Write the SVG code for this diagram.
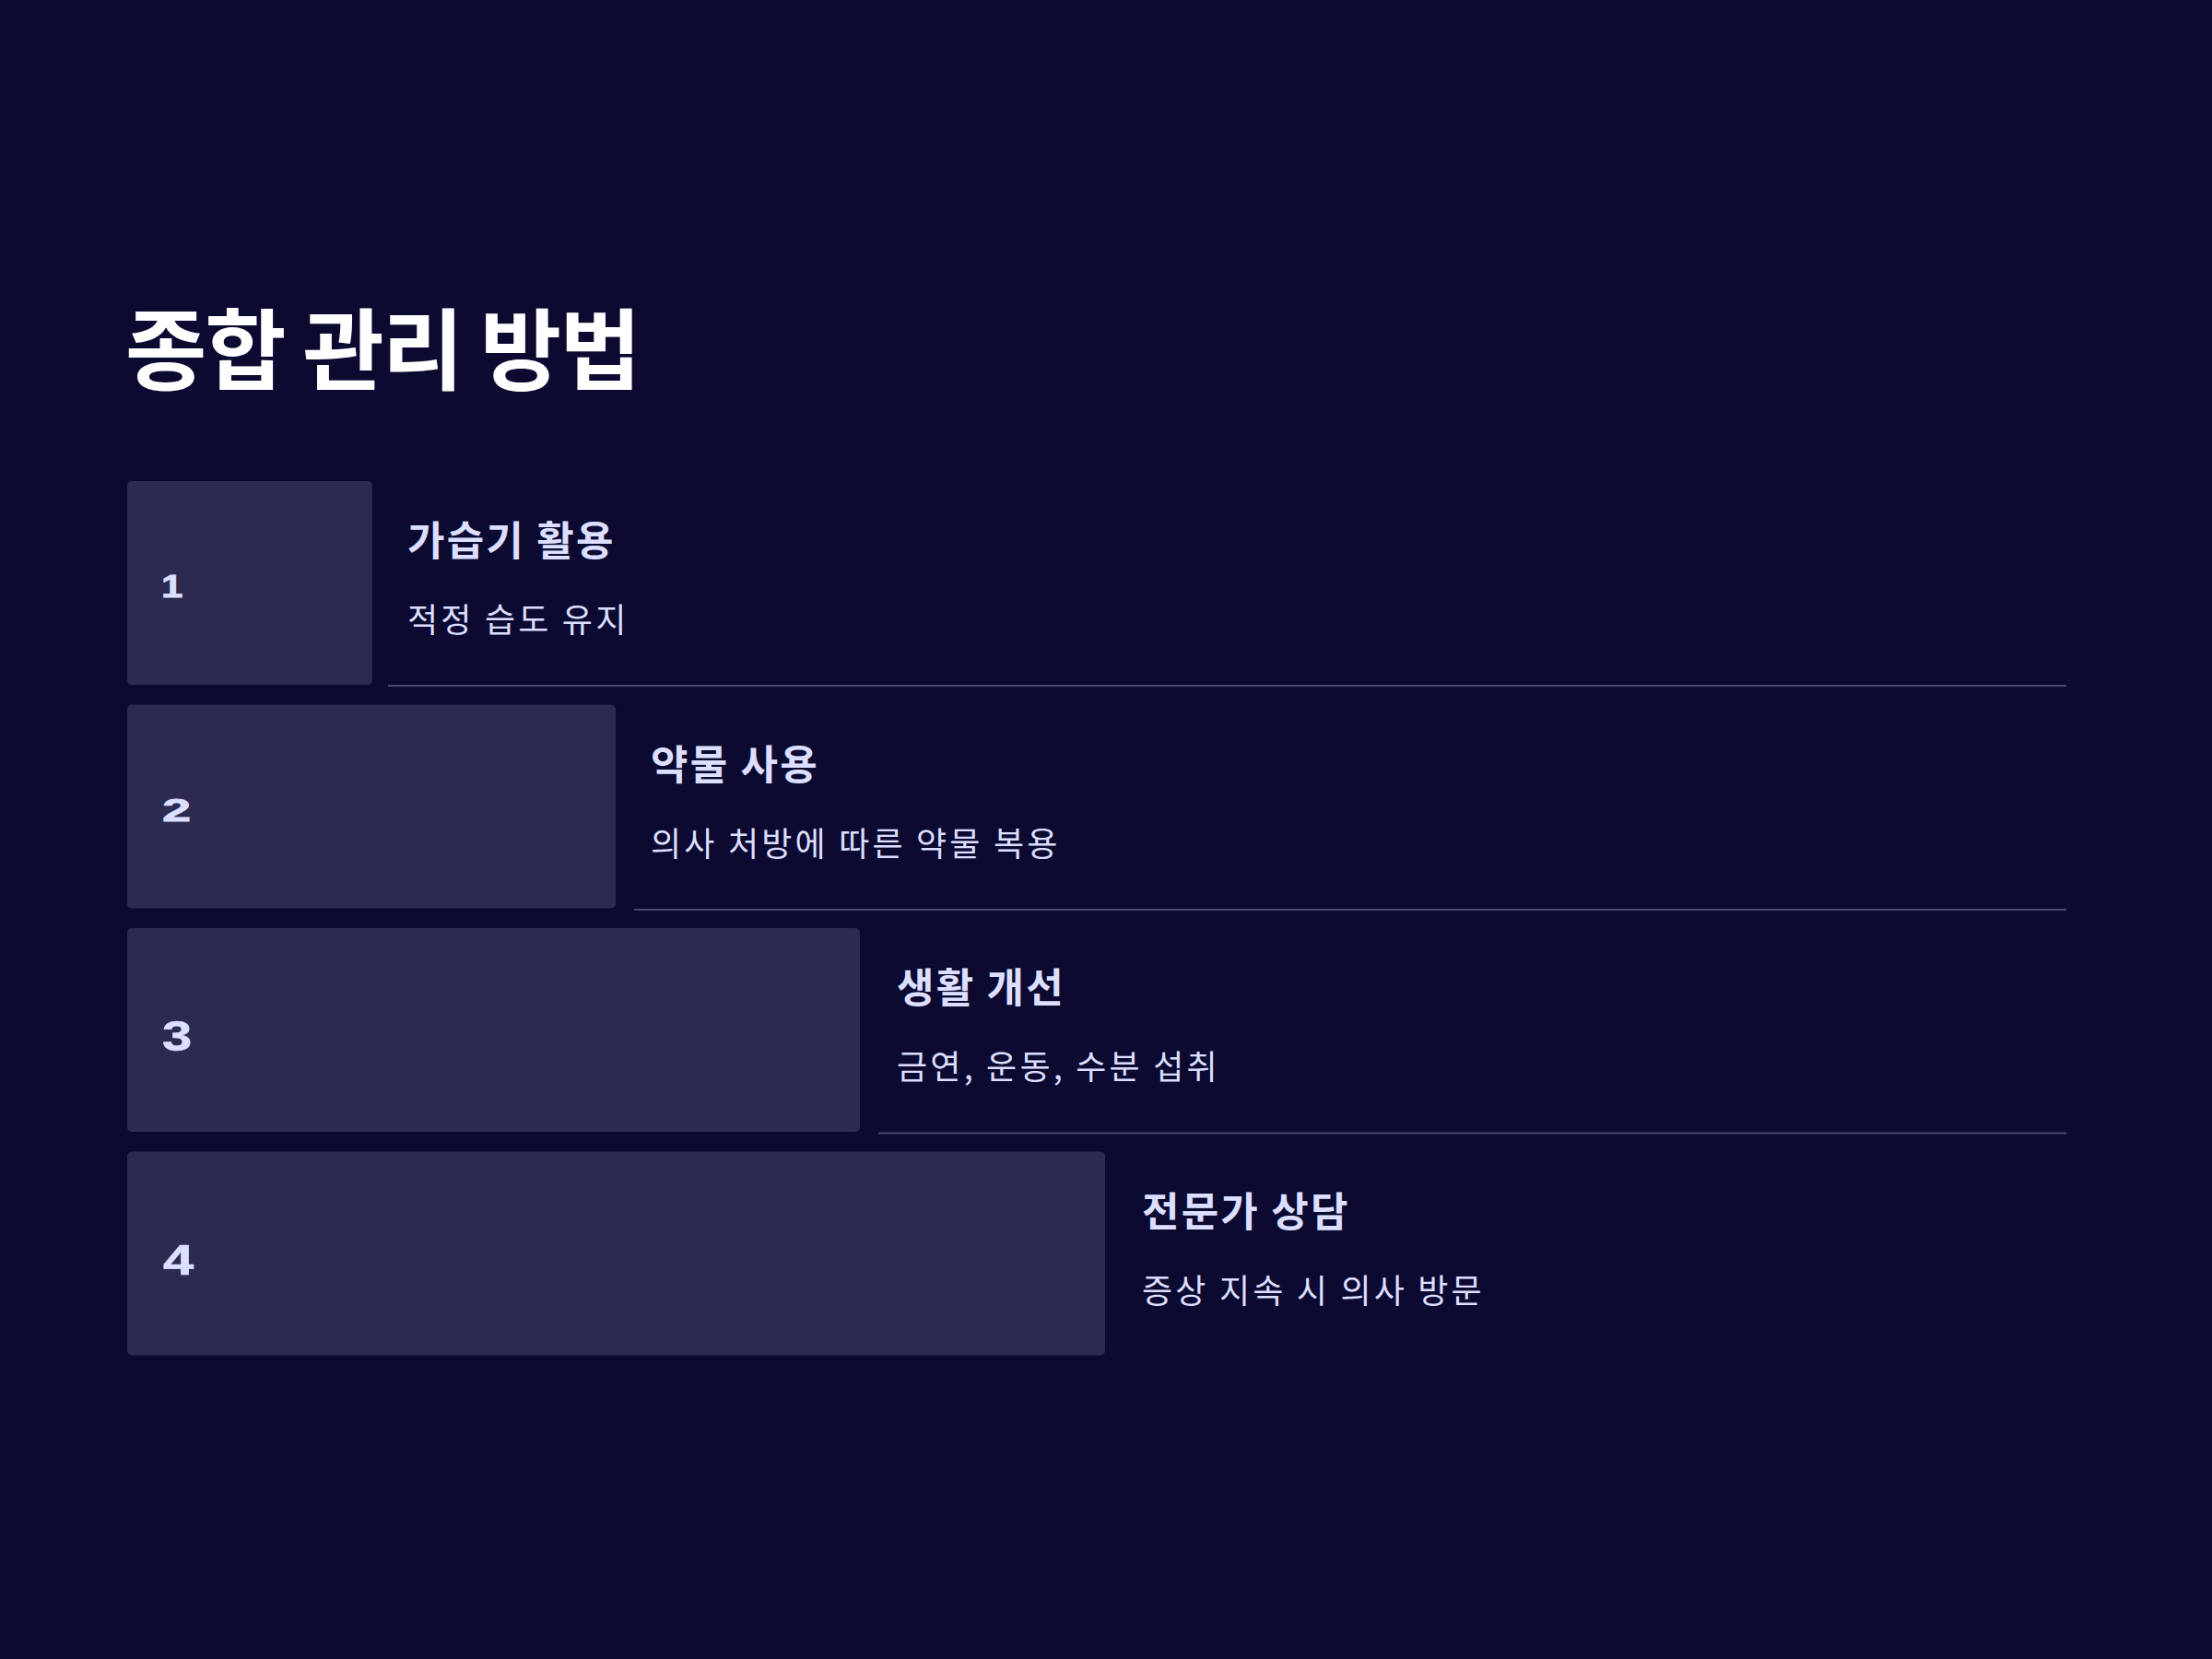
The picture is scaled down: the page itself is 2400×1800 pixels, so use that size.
<svg xmlns="http://www.w3.org/2000/svg" width="2400" height="1800" viewBox="0 0 2400 1800">
  <style>
    .bg { fill: #0c0a31; }
    .box { fill: #2c2a50; }
    .title { font-family: "Noto Sans CJK KR", "Noto Sans", sans-serif; font-weight: 700; font-size: 96px; fill: #ffffff; letter-spacing: -2px; }
    .num { font-family: "Liberation Sans", Arial, sans-serif; font-weight: 700; font-size: 35px; fill: #dcdfff; stroke: #dcdfff; stroke-width: 0.8px; }
    .numd { font-family: "Liberation Sans", Arial, sans-serif; font-weight: 700; font-size: 46px; fill: #dcdfff; stroke: #dcdfff; stroke-width: 0.6px; }
    .head { font-family: "Noto Sans CJK KR", "Noto Sans", sans-serif; font-weight: 700; font-size: 44px; fill: #dcdfff; letter-spacing: 2.2px; }
    .sub { font-family: "Noto Sans CJK KR", "Noto Sans", sans-serif; font-weight: 400; font-size: 36px; fill: #dcdfff; letter-spacing: 3.2px; }
    .divider { stroke: #4a4870; stroke-width: 2; fill: none; }
  </style>
  <rect class="bg" x="0" y="0" width="2400" height="1800"/>
  <g id="title">
    <text class="title" x="136" y="415">종합 관리 방법</text>
  </g>
  <g id="step1">
    <rect class="box" x="138" y="522" width="266" height="221" rx="5"/>
    <text class="num" transform="translate(175,648) scale(1.2,1)">1</text>
    <text class="head" x="442" y="603">가습기 활용</text>
    <text class="sub" x="442" y="686">적정 습도 유지</text>
  </g>
  <g id="step2">
    <rect class="box" x="138" y="764.5" width="530" height="221" rx="5"/>
    <text class="num" transform="translate(176,890.5) scale(1.6,1)">2</text>
    <text class="head" x="706" y="845.5">약물 사용</text>
    <text class="sub" x="706" y="928.5">의사 처방에 따른 약물 복용</text>
  </g>
  <g id="step3">
    <rect class="box" x="138" y="1007" width="795" height="221" rx="5"/>
    <text class="numd" transform="translate(176,1140) scale(1.26,1)">3</text>
    <text class="head" x="973" y="1088">생활 개선</text>
    <text class="sub" x="973" y="1171">금연, 운동, 수분 섭취</text>
  </g>
  <g id="step4">
    <rect class="box" x="138" y="1249.5" width="1061" height="221" rx="5"/>
    <text class="numd" transform="translate(177,1383) scale(1.3,1)">4</text>
    <text class="head" x="1239" y="1330.5">전문가 상담</text>
    <text class="sub" x="1239" y="1413.5">증상 지속 시 의사 방문</text>
  </g>
  <g id="connectors">
    <line class="divider" x1="421" y1="744" x2="2242" y2="744"/>
    <line class="divider" x1="688" y1="987" x2="2242" y2="987"/>
    <line class="divider" x1="953" y1="1229.5" x2="2242" y2="1229.5"/>
  </g>
</svg>
